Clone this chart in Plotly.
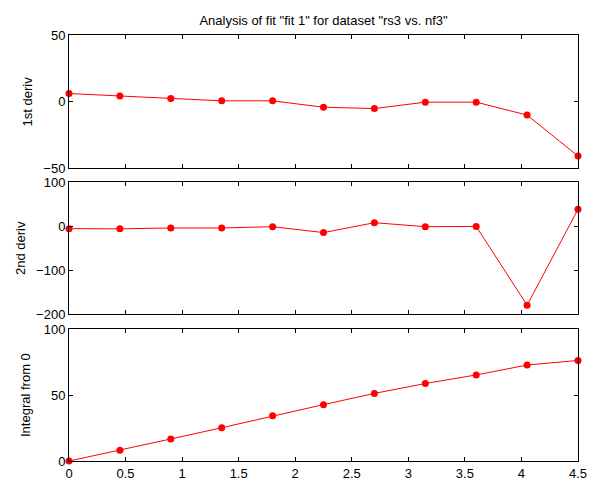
import plotly.graph_objects as go

x_vals = [0, 0.45, 0.9, 1.35, 1.8, 2.25, 2.7, 3.15, 3.6, 4.05, 4.5]
deriv1 = [6, 4.2, 2.3, 0.5, 0.5, -4.3, -5.3, -0.5, -0.5, -10.2, -41]
deriv2 = [-6, -6.5, -4.5, -4.5, -1.5, -15, 7.5, -1.5, -1, -180, 38]
integral = [0, 8.2, 16.7, 25.2, 34.2, 42.7, 51.2, 58.7, 65.2, 72.7, 76.2]

title_text = 'Analysis of fit "fit 1" for dataset "rs3 vs. nf3"'
ylabels = ["1st deriv", "2nd deriv", "Integral from 0"]
yranges = [[-50, 50], [-200, 100], [0, 100]]
yticks = [[-50, 0, 50], [-200, -100, 0, 100], [0, 50, 100]]
xticks = [0, 0.5, 1, 1.5, 2, 2.5, 3, 3.5, 4, 4.5]
xticklabels = ["0", "0.5", "1", "1.5", "2", "2.5", "3", "3.5", "4", "4.5"]

W, H = 602, 486
ml, mr, mt, mb = 69, 24, 35, 25
pw = W - ml - mr
ph = H - mt - mb
# pixel rows (top, bottom) of each panel
panels_px = [(35, 168), (182, 314), (329, 461)]
domains = [[(H - mb - b) / ph, (H - mb - t) / ph] for t, b in panels_px]
label_cx = [27, 20, 25]

font = dict(family="Liberation Sans, Arial, sans-serif", size=13, color="black")
fig = go.Figure()
series = [deriv1, deriv2, integral]
for i in range(3):
    ax = "" if i == 0 else str(i + 1)
    fig.add_trace(go.Scatter(
        x=x_vals, y=series[i], mode="lines+markers",
        line=dict(color="#ff0000", width=1),
        marker=dict(color="#ff0000", size=7),
        xaxis="x" + ax, yaxis="y" + ax, showlegend=False,
        cliponaxis=False,
    ))
    fig.layout["xaxis" + ax] = dict(
        range=[0, 4.5], tickvals=xticks, ticktext=xticklabels,
        showticklabels=(i == 2), ticks="inside", ticklen=4, tickwidth=1,
        tickcolor="black", showline=True, linecolor="black", linewidth=1,
        mirror="ticks", showgrid=False, zeroline=False, automargin=False,
        anchor="y" + ax, domain=[0, 1], tickfont=font,
    )
    fig.layout["yaxis" + ax] = dict(
        range=yranges[i], tickvals=yticks[i],
        ticks="inside", ticklen=4, tickwidth=1,
        tickcolor="black", showline=True, linecolor="black", linewidth=1,
        mirror="ticks", showgrid=False, zeroline=False, automargin=False,
        anchor="x" + ax, domain=domains[i], tickfont=font,
    )
    d = domains[i]
    fig.add_annotation(
        text=ylabels[i], textangle=-90, showarrow=False,
        xref="paper", yref="paper",
        x=(label_cx[i] - ml) / pw, y=(d[0] + d[1]) / 2,
        xanchor="center", yanchor="middle", font=font,
    )

fig.update_layout(
    width=W, height=H,
    margin=dict(l=ml, r=mr, t=mt, b=mb),
    paper_bgcolor="white", plot_bgcolor="white",
    title=dict(text=title_text, x=(ml + (W - mr)) / 2 / W, xanchor="center",
               y=1 - 20 / H, yanchor="middle",
               font=dict(family="Liberation Sans, Arial, sans-serif", size=13, color="black")),
)
fig.write_html("out.html", config={"displayModeBar": False},
               post_script="document.body.style.margin='0px';")
